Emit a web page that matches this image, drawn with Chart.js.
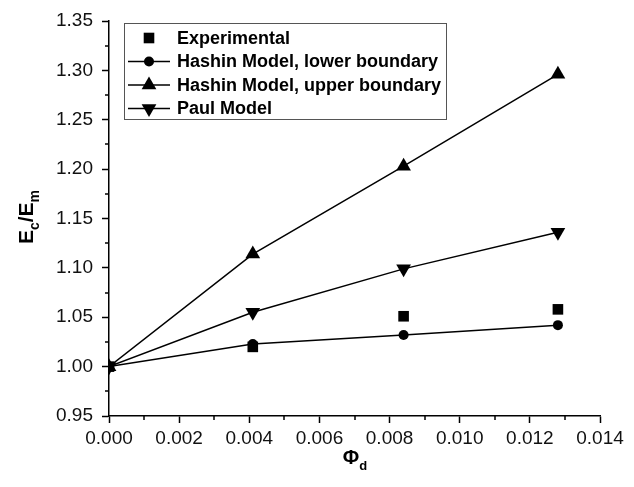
<!DOCTYPE html>
<html>
<head>
<meta charset="utf-8">
<script src="https://cdn.jsdelivr.net/npm/chart.js@4.4.1/dist/chart.umd.min.js"></script>
<style>
  html, body { margin: 0; padding: 0; background: #fff; }
  #wrap { width: 634px; height: 487px; }
</style>
</head>
<body>
<div id="wrap"><canvas id="chart" width="634" height="487"></canvas></div>
<script>
// data
const phiD = [0, 0.0041, 0.0084, 0.0128];
const experimental = [1.000, 1.020, 1.051, 1.058];
const hashinLower = [1.000, 1.023, 1.032, 1.042];
const hashinUpper = [1.000, 1.114, 1.203, 1.296];
const paulModel = [1.000, 1.055, 1.099, 1.136];

const xTicks = [0, 0.002, 0.004, 0.006, 0.008, 0.010, 0.012, 0.014];
const yTicks = [0.95, 1.00, 1.05, 1.10, 1.15, 1.20, 1.25, 1.30, 1.35];
const xMinor = [0.001, 0.003, 0.005, 0.007, 0.009, 0.011, 0.013];
const yMinor = [0.975, 1.025, 1.075, 1.125, 1.175, 1.225, 1.275, 1.325];

const seriesNames = ['Experimental', 'Hashin Model, lower boundary', 'Hashin Model, upper boundary', 'Paul Model'];

const FONT = '"Liberation Sans", Arial, sans-serif';
const pts = ys => phiD.map((x, i) => ({ x: x, y: ys[i] }));

const sty = [
    { pointStyle: 'rect', radius: 7.5, rotation: 0, line: false },
    { pointStyle: 'circle', radius: 5, rotation: 0, line: true },
    { pointStyle: 'triangle', radius: 8.5, rotation: 0, line: true },
    { pointStyle: 'triangle', radius: 8.5, rotation: 180, line: true }
];

function ds(i, ys) {
    return {
        label: seriesNames[i],
        data: pts(ys),
        showLine: sty[i].line,
        borderColor: '#000',
        borderWidth: 1.5,
        backgroundColor: '#000',
        pointStyle: sty[i].pointStyle,
        pointRadius: sty[i].radius,
        pointRotation: sty[i].rotation,
        pointBorderWidth: 0,
        pointBackgroundColor: '#000',
        tension: 0
    };
}

// minor ticks, axis titles and boxed legend
const decorations = {
    id: 'decorations',
    afterDraw(chart) {
        const ctx = chart.ctx;
        const xs = chart.scales.x, ys = chart.scales.y;
        const area = chart.chartArea;
        ctx.save();
        ctx.strokeStyle = '#000';
        ctx.lineWidth = 1.5;
        ctx.beginPath();
        xMinor.forEach(v => {
            const px = Math.round(xs.getPixelForValue(v));
            ctx.moveTo(px, area.bottom); ctx.lineTo(px, area.bottom + 4);
        });
        yMinor.forEach(v => {
            const py = Math.round(ys.getPixelForValue(v));
            ctx.moveTo(area.left, py); ctx.lineTo(area.left - 4, py);
        });
        ctx.stroke();

        // x title: Phi_d
        ctx.fillStyle = '#000';
        ctx.textBaseline = 'alphabetic';
        ctx.textAlign = 'left';
        ctx.font = 'bold 20px ' + FONT;
        const phiW = ctx.measureText('Φ').width;
        ctx.font = 'bold 13px ' + FONT;
        const dW = ctx.measureText('d').width;
        let x0 = 355 - (phiW + dW) / 2;
        ctx.font = 'bold 20px ' + FONT;
        ctx.fillText('Φ', x0, 464);
        ctx.font = 'bold 13px ' + FONT;
        ctx.fillText('d', x0 + phiW, 470);

        // y title: E_c/E_m rotated
        const parts = [['E', 21, 0], ['c', 14, 6], ['/E', 21, 0], ['m', 14, 6]];
        let total = 0;
        parts.forEach(p => { ctx.font = 'bold ' + p[1] + 'px ' + FONT; total += ctx.measureText(p[0]).width; });
        ctx.translate(33, 217);
        ctx.rotate(-Math.PI / 2);
        let cx = -total / 2;
        parts.forEach(p => {
            ctx.font = 'bold ' + p[1] + 'px ' + FONT;
            ctx.fillText(p[0], cx, p[2]);
            cx += ctx.measureText(p[0]).width;
        });
        ctx.setTransform(1, 0, 0, 1, 0, 0);

        // legend
        const lx = 124.5, ly = 23.5, lw = 322, lh = 96;
        ctx.strokeStyle = '#555';
        ctx.lineWidth = 1;
        ctx.strokeRect(lx, ly, lw, lh);
        ctx.font = 'bold 18px ' + FONT;
        ctx.textBaseline = 'middle';
        seriesNames.forEach((name, i) => {
            const y = 38 + i * 23.5;
            if (sty[i].line) {
                ctx.strokeStyle = '#000';
                ctx.lineWidth = 1.5;
                ctx.beginPath();
                ctx.moveTo(128, y); ctx.lineTo(170, y);
                ctx.stroke();
            }
            ctx.fillStyle = '#000';
            Chart.helpers.drawPoint(ctx, {
                pointStyle: sty[i].pointStyle,
                radius: sty[i].radius,
                rotation: sty[i].rotation,
                borderWidth: 0
            }, 149, y);
            ctx.fillStyle = '#000';
            ctx.fillText(name, 177, y + 1);
        });
        ctx.restore();
    }
};

new Chart(document.getElementById('chart'), {
    type: 'scatter',
    data: {
        datasets: [ds(0, experimental), ds(1, hashinLower), ds(2, hashinUpper), ds(3, paulModel)]
    },
    options: {
        responsive: false,
        animation: false,
        devicePixelRatio: 1,
        layout: { padding: { left: 0, right: 34, top: 21, bottom: 0 } },
        plugins: { legend: { display: false }, tooltip: { enabled: false } },
        scales: {
            x: {
                type: 'linear', min: 0, max: 0.014,
                afterBuildTicks: s => { s.ticks = xTicks.map(v => ({ value: v })); },
                afterFit: s => { s.height = 71; },
                grid: { drawOnChartArea: false, drawTicks: true, tickLength: 7, tickColor: '#000', tickWidth: 1.5 },
                border: { display: true, color: '#000', width: 1.5 },
                ticks: { color: '#111', font: { family: FONT, size: 19 }, padding: 4, maxRotation: 0,
                    callback: v => Number(v).toFixed(3) }
            },
            y: {
                type: 'linear', min: 0.95, max: 1.35,
                afterBuildTicks: s => { s.ticks = yTicks.map(v => ({ value: v })); },
                afterFit: s => { s.width = 109; },
                grid: { drawOnChartArea: false, drawTicks: true, tickLength: 7, tickColor: '#000', tickWidth: 1.5 },
                border: { display: true, color: '#000', width: 1.5 },
                ticks: { color: '#111', font: { family: FONT, size: 19 }, padding: 9,
                    callback: v => Number(v).toFixed(2) }
            }
        }
    },
    plugins: [decorations]
});
</script>
</body>
</html>
